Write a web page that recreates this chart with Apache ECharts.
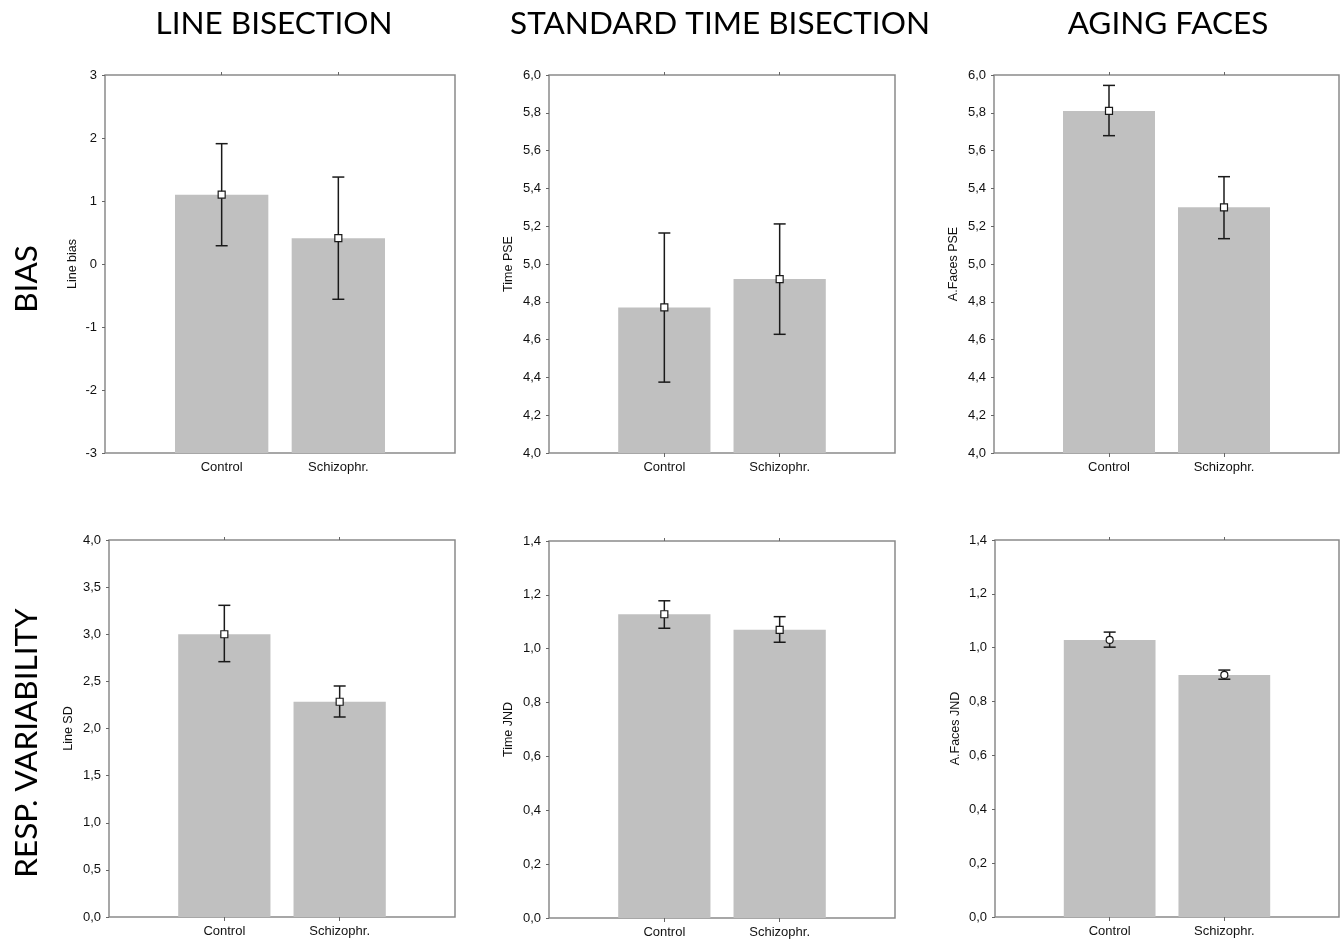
<!DOCTYPE html>
<html>
<head>
<meta charset="utf-8">
<script src="https://cdn.jsdelivr.net/npm/echarts@6/dist/echarts.min.js"></script>
<style>
html,body{margin:0;padding:0;background:#fff;}
#chart{width:1341px;height:941px;}
</style>
</head>
<body>
<div id="chart"></div>
<script>
// ---- data ----
const categories = ['Control', 'Schizophr.'];
const columnTitles = ['LINE BISECTION', 'STANDARD TIME BISECTION', 'AGING FACES'];
const rowTitles = ['BIAS', 'RESP. VARIABILITY'];
const yNames = ['Line bias', 'Time PSE', 'A.Faces PSE', 'Line SD', 'Time JND', 'A.Faces JND'];

const lineBiasMean = [1.10, 0.41];
const lineBiasLow  = [0.29, -0.56];
const lineBiasHigh = [1.91, 1.38];

const timePseMean = [4.77, 4.92];
const timePseLow  = [4.375, 4.628];
const timePseHigh = [5.164, 5.212];

const facesPseMean = [5.81, 5.30];
const facesPseLow  = [5.679, 5.134];
const facesPseHigh = [5.945, 5.462];

const lineSdMean = [3.00, 2.284];
const lineSdLow  = [2.709, 2.122];
const lineSdHigh = [3.307, 2.451];

const timeJndMean = [1.128, 1.070];
const timeJndLow  = [1.076, 1.024];
const timeJndHigh = [1.178, 1.119];

const facesJndMean = [1.029, 0.899];
const facesJndLow  = [1.002, 0.883];
const facesJndHigh = [1.058, 0.917];

// y-axis tick settings
const yMins = [-3, 4.0, 4.0, 0.0, 0.0, 0.0];
const yMaxs = [3, 6.0, 6.0, 4.0, 1.4, 1.4];
const yIntervals = [1, 0.2, 0.2, 0.5, 0.2, 0.2];
const yDecimals = [0, 1, 1, 1, 1, 1];
const markerShapes = ['square', 'square', 'square', 'square', 'square', 'circle'];

const panelData = [
  [lineBiasMean, lineBiasLow, lineBiasHigh],
  [timePseMean, timePseLow, timePseHigh],
  [facesPseMean, facesPseLow, facesPseHigh],
  [lineSdMean, lineSdLow, lineSdHigh],
  [timeJndMean, timeJndLow, timeJndHigh],
  [facesJndMean, facesJndLow, facesJndHigh]
];

// ---- layout ----
const grids = [
  {left: 105, top: 75, width: 350, height: 378},
  {left: 549, top: 75, width: 346, height: 378},
  {left: 994, top: 75, width: 345, height: 378},
  {left: 109, top: 540, width: 346, height: 377},
  {left: 549, top: 541, width: 346, height: 377},
  {left: 995, top: 540, width: 344, height: 377}
];
const nameGaps = [26, 34, 34, 34, 34, 33];

const FONT = '"Liberation Sans", Arial, sans-serif';
const TITLE_FONT = 'Lato, "Open Sans", sans-serif';

const option = {
  animation: false,
  backgroundColor: '#fff',
  grid: [],
  xAxis: [],
  yAxis: [],
  series: [],
  graphic: []
};

const titleX = [274, 720, 1168];
columnTitles.forEach((t, i) => {
  option.graphic.push({
    type: 'text',
    x: titleX[i], y: 24,
    style: {text: t, font: '400 31.5px ' + TITLE_FONT, fill: '#000', textAlign: 'center', textVerticalAlign: 'middle'}
  });
});
const rowY = [279, 743];
rowTitles.forEach((t, i) => {
  option.graphic.push({
    type: 'text',
    x: 27, y: rowY[i], rotation: Math.PI / 2,
    style: {text: t, font: '400 31.5px ' + TITLE_FONT, fill: '#000', textAlign: 'center', textVerticalAlign: 'middle'}
  });
});

grids.forEach((g, p) => {
  option.grid.push(Object.assign({show: true, borderColor: '#8a8a8a', borderWidth: 1.5, backgroundColor: 'transparent', containLabel: false}, g));
  option.xAxis.push({
    gridIndex: p, type: 'value', min: 0, max: 3, interval: 1, position: 'bottom',
    axisLine: {show: false},
    splitLine: {show: false},
    axisTick: {show: true, inside: false, length: 4, lineStyle: {color: '#666'}, customValues: [1, 2]},
    axisLabel: {show: true, margin: 8, fontFamily: FONT, fontSize: 13, color: '#111',
      customValues: [1, 2],
      formatter: v => categories[Math.round(v) - 1] || ''}
  });
  option.xAxis.push({
    gridIndex: p, type: 'value', min: 0, max: 3, interval: 1, position: 'top',
    axisLine: {show: false}, splitLine: {show: false},
    axisTick: {show: true, inside: false, length: 3, lineStyle: {color: '#666'}, customValues: [1, 2]},
    axisLabel: {show: false}
  });
  const dec = yDecimals[p];
  option.yAxis.push({
    gridIndex: p, type: 'value', min: yMins[p], max: yMaxs[p], interval: yIntervals[p],
    name: yNames[p], nameLocation: 'middle', nameGap: nameGaps[p], nameRotate: 90,
    nameTextStyle: {fontFamily: FONT, fontSize: 12.5, color: '#111'},
    axisLine: {show: false}, splitLine: {show: false},
    axisTick: {show: true, inside: false, length: 3, lineStyle: {color: '#666'}},
    axisLabel: {margin: 8, fontFamily: FONT, fontSize: 13, color: '#111',
      formatter: v => v.toFixed(dec).replace('.', ',')}
  });

  const [mean, low, high] = panelData[p];
  const base = yMins[p];
  const shape = markerShapes[p];
  const data = categories.map((c, i) => [i + 1, mean[i], low[i], high[i]]);

  option.series.push({
    type: 'custom',
    xAxisIndex: p * 2, yAxisIndex: p,
    data: data,
    encode: {x: 0, y: [1, 2, 3]},
    renderItem: (params, api) => {
      const x = api.value(0);
      const m = api.value(1), lo = api.value(2), hi = api.value(3);
      const pBase = api.coord([x, base]);
      const pTop = api.coord([x, m]);
      const pLo = api.coord([x, lo]);
      const pHi = api.coord([x, hi]);
      const bw = api.size([1, 0])[0] * 0.8;
      const cap = 6;
      const lineStyle = {stroke: '#1a1a1a', lineWidth: 1.5};
      const children = [
        {type: 'rect', shape: {x: pTop[0] - bw / 2, y: pTop[1], width: bw, height: pBase[1] - pTop[1]},
          style: {fill: '#c0c0c0'}},
        {type: 'line', shape: {x1: pLo[0], y1: pLo[1], x2: pHi[0], y2: pHi[1]}, style: lineStyle},
        {type: 'line', shape: {x1: pHi[0] - cap, y1: pHi[1], x2: pHi[0] + cap, y2: pHi[1]}, style: lineStyle},
        {type: 'line', shape: {x1: pLo[0] - cap, y1: pLo[1], x2: pLo[0] + cap, y2: pLo[1]}, style: lineStyle}
      ];
      if (shape === 'square') {
        children.push({type: 'rect', shape: {x: pTop[0] - 3.5, y: pTop[1] - 3.5, width: 7, height: 7},
          style: {fill: '#fff', stroke: '#1a1a1a', lineWidth: 1.2}});
      } else {
        children.push({type: 'circle', shape: {cx: pTop[0], cy: pTop[1], r: 3.5},
          style: {fill: '#fff', stroke: '#1a1a1a', lineWidth: 1.2}});
      }
      return {type: 'group', children: children};
    }
  });
});

const chart = echarts.init(document.getElementById('chart'), null, {renderer: 'canvas'});
chart.setOption(option);
</script>
</body>
</html>
